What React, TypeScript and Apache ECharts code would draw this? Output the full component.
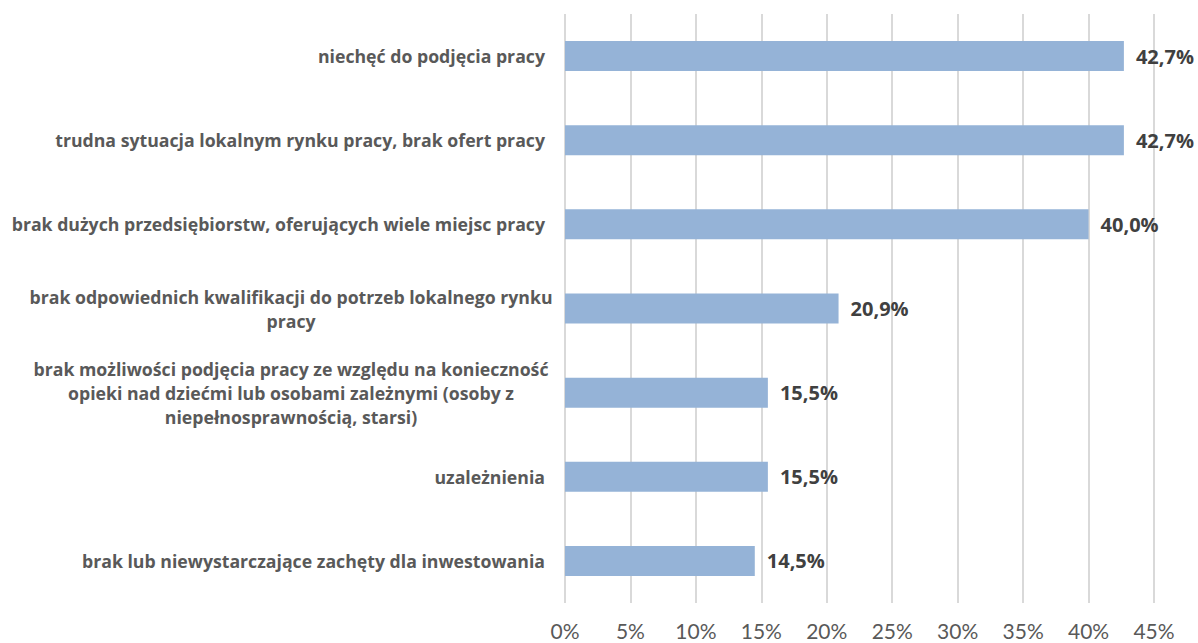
import React, { useEffect, useRef } from "react";
import * as echarts from "echarts";

const categories: string[] = [
  "niechęć do podjęcia pracy",
  "trudna sytuacja lokalnym rynku pracy, brak ofert pracy",
  "brak dużych przedsiębiorstw, oferujących wiele miejsc pracy",
  "brak odpowiednich kwalifikacji do potrzeb lokalnego rynku\npracy",
  "brak możliwości podjęcia pracy ze względu na konieczność\nopieki nad dziećmi lub osobami zależnymi (osoby z\nniepełnosprawnością, starsi)",
  "uzależnienia",
  "brak lub niewystarczające zachęty dla inwestowania",
];
const values: number[] = [42.7, 42.7, 40.0, 20.9, 15.5, 15.5, 14.5];

// wrapped labels are centred on a fixed point left of the axis (as in the source)
const WRAP_SHIFT = 508;

export default function App() {
  const ref = useRef<HTMLDivElement>(null);
  useEffect(() => {
    if (!ref.current) return;
    const chart = echarts.init(ref.current, undefined, { renderer: "svg" });
    const yData = categories.map((c) =>
      c.indexOf("\n") < 0
        ? c
        : { value: c, textStyle: { align: "center", padding: [0, WRAP_SHIFT, 0, 0] } }
    );
    chart.setOption({
      animation: false,
      grid: { left: 565, right: 44, top: 14, bottom: 40, containLabel: false },
      xAxis: {
        type: "value",
        min: 0,
        max: 45,
        interval: 5,
        axisLine: { show: false },
        axisTick: { show: false },
        splitLine: { show: true, lineStyle: { color: "#d9d9d9", width: 2 } },
        axisLabel: {
          formatter: "{value}%",
          color: "#595959",
          fontSize: 21,
          fontFamily: "Lato",
          margin: 17,
        },
      },
      yAxis: {
        type: "category",
        inverse: true,
        data: yData,
        axisLine: { show: false },
        axisTick: { show: false },
        axisLabel: {
          color: "#595959",
          fontSize: 17.7,
          fontWeight: "bold",
          fontFamily: "Open Sans",
          lineHeight: 24,
          margin: 20,
        },
      },
      series: [
        {
          type: "bar",
          data: values,
          barWidth: 30,
          itemStyle: { color: "#95B3D7" },
          label: {
            show: true,
            position: "right",
            distance: 12,
            formatter: (p: any) => p.value.toFixed(1).replace(".", ",") + "%",
            color: "#404040",
            fontSize: 20,
            fontWeight: "bold",
            fontFamily: "Open Sans",
          },
        },
      ],
    });
    return () => chart.dispose();
  }, []);
  return (
    <div
      ref={ref}
      style={{ position: "fixed", left: 0, top: 0, width: 1198, height: 643, background: "#fff" }}
    />
  );
}
